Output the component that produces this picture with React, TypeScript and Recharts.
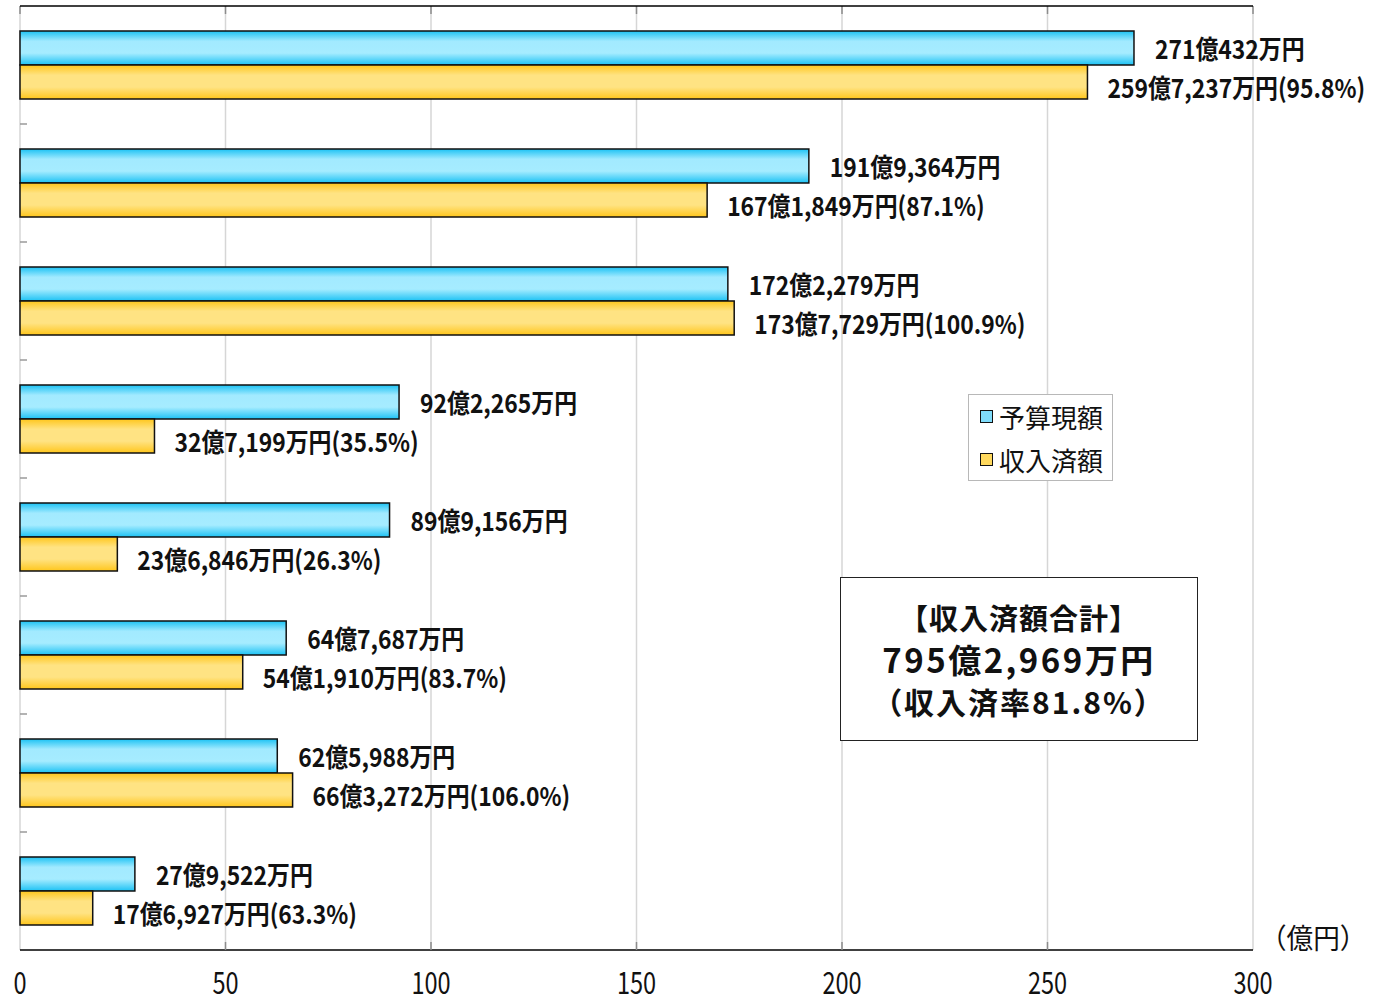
import React from "react";
import { Bar, BarChart, CartesianGrid, LabelList, Legend, XAxis, YAxis } from "recharts";

// 単位: 億円
const CATEGORIES = ["1", "2", "3", "4", "5", "6", "7", "8"];
const BUDGET = [271.0432, 191.9364, 172.2279, 92.2265, 89.9156, 64.7687, 62.5988, 27.9522];
const RECEIVED = [259.7237, 167.1849, 173.7729, 32.7199, 23.6846, 54.191, 66.3272, 17.6927];
const BUDGET_TEXT = [
  "271億432万円",
  "191億9,364万円",
  "172億2,279万円",
  "92億2,265万円",
  "89億9,156万円",
  "64億7,687万円",
  "62億5,988万円",
  "27億9,522万円",
];
const RECEIVED_TEXT = [
  "259億7,237万円(95.8%)",
  "167億1,849万円(87.1%)",
  "173億7,729万円(100.9%)",
  "32億7,199万円(35.5%)",
  "23億6,846万円(26.3%)",
  "54億1,910万円(83.7%)",
  "66億3,272万円(106.0%)",
  "17億6,927万円(63.3%)",
];
const X_TICKS = [0, 50, 100, 150, 200, 250, 300];

const SERIES_NAMES = ["予算現額", "収入済額"];
const TOTAL_LINES = ["【収入済額合計】", "795億2,969万円", "（収入済率81.8%）"];
const UNIT = "（億円）";

const JP_FONT = "'Noto Sans CJK JP', 'Noto Sans', sans-serif";

const rows = CATEGORIES.map((name, i) => ({
  name,
  budget: BUDGET[i],
  received: RECEIVED[i],
  budgetText: BUDGET_TEXT[i],
  receivedText: RECEIVED_TEXT[i],
}));

function makeBarLabel(dx: number, dy: number) {
  return function BarLabel(props: any) {
    const { x, y, width, height, value } = props;
    const tx = Number(x) + Number(width) + dx;
    const ty = Number(y) + Number(height) / 2 + dy;
    return (
      <g transform={`translate(${tx},${ty}) scale(0.88,1)`}>
        <text x={0} y={0} dominantBaseline="central" fontFamily={JP_FONT} fontWeight={700} fontSize={26} fill="#111">
          {value}
        </text>
      </g>
    );
  };
}

function XTick(props: any) {
  const { x, y, payload } = props;
  const ax = Number(x);
  const ay = Number(y);
  return (
    <g>
      {payload.value > 0 && payload.value < 300 && (
        <line x1={ax} x2={ax} y1={ay - 8} y2={ay} stroke="#8c8c8c" strokeWidth={1.5} />
      )}
      <g transform={`translate(${ax},${ay + 30}) scale(0.76,1)`}>
        <text x={0} y={0} textAnchor="middle" dominantBaseline="central" fontFamily={JP_FONT} fontSize={31} fill="#111">
          {payload.value}
        </text>
      </g>
    </g>
  );
}

// short marks between categories, along the inside of the left axis
const boundaryLines = ({ offset }: any) =>
  CATEGORIES.slice(1).map((_, i) => offset.top + (offset.height * (i + 1)) / CATEGORIES.length);

function LegendBox() {
  const swatches = ["#7fdcfb", "#ffd95e"];
  return (
    <div
      style={{
        width: 145,
        height: 87,
        boxSizing: "border-box",
        border: "1px solid #b8b8b8",
        background: "#fff",
        padding: "0 0 0 11px",
        fontFamily: JP_FONT,
        fontSize: 26,
        color: "#111",
      }}
    >
      {SERIES_NAMES.map((name, i) => (
        <div key={name} style={{ display: "flex", alignItems: "center", height: 43 }}>
          <span
            style={{
              display: "inline-block",
              width: 11,
              height: 11,
              border: "1.5px solid #111",
              background: swatches[i],
              marginRight: 6,
            }}
          />
          {name}
        </div>
      ))}
    </div>
  );
}

export default function App() {
  return (
    <div style={{ position: "absolute", left: 0, top: 0, width: 1380, height: 999, background: "#fff" }}>
      <BarChart
        width={1380}
        height={999}
        data={rows}
        layout="vertical"
        margin={{ top: 6, right: 127, bottom: 0, left: 20 }}
        barSize={34}
        barGap={0}
      >
        <defs>
          <linearGradient id="gradBlue" x1="0" y1="0" x2="0" y2="1">
            <stop offset="0%" stopColor="#1cc2f4" />
            <stop offset="30%" stopColor="#a2eaff" />
            <stop offset="65%" stopColor="#a6ecff" />
            <stop offset="100%" stopColor="#1cc2f4" />
          </linearGradient>
          <linearGradient id="gradGold" x1="0" y1="0" x2="0" y2="1">
            <stop offset="0%" stopColor="#ffc61c" />
            <stop offset="30%" stopColor="#ffe383" />
            <stop offset="65%" stopColor="#ffe383" />
            <stop offset="100%" stopColor="#ffc61c" />
          </linearGradient>
        </defs>
        <CartesianGrid horizontal={false} stroke="#d6d6d6" strokeWidth={1.5} />
        <CartesianGrid horizontal={false} stroke="#8c8c8c" strokeWidth={1.5} strokeDasharray="8 3000" />
        <CartesianGrid
          vertical={false}
          stroke="#9a9a9a"
          strokeWidth={1.5}
          strokeDasharray="7 3000"
          horizontalCoordinatesGenerator={boundaryLines}
        />
        <CartesianGrid
          vertical={false}
          stroke="#000"
          strokeWidth={1.5}
          horizontalCoordinatesGenerator={({ offset }: any) => [offset.top]}
        />
        <XAxis
          type="number"
          domain={[0, 300]}
          ticks={X_TICKS}
          interval={0}
          height={49}
          axisLine={{ stroke: "#000", strokeWidth: 1.5 }}
          tickLine={false}
          tickSize={0}
          tickMargin={0}
          tick={<XTick />}
        />
        <YAxis
          type="category"
          dataKey="name"
          width={0}
          tick={false}
          tickLine={false}
          axisLine={{ stroke: "#000", strokeWidth: 1.5 }}
        />
        <Legend
          layout="vertical"
          align="center"
          verticalAlign="middle"
          content={() => <LegendBox />}
          wrapperStyle={{ position: "absolute", left: 968, top: 394, width: 145, height: 87 }}
        />
        <Bar dataKey="budget" name={SERIES_NAMES[0]} fill="url(#gradBlue)" stroke="#111" strokeWidth={1.5} isAnimationActive={false}>
          <LabelList dataKey="budgetText" content={makeBarLabel(21, 0)} />
        </Bar>
        <Bar dataKey="received" name={SERIES_NAMES[1]} fill="url(#gradGold)" stroke="#111" strokeWidth={1.5} isAnimationActive={false}>
          <LabelList dataKey="receivedText" content={makeBarLabel(20, 5)} />
        </Bar>
      </BarChart>
      <div
        style={{
          position: "absolute",
          left: 840,
          top: 577,
          width: 358,
          height: 164,
          boxSizing: "border-box",
          border: "1.5px solid #222",
          background: "#fff",
          display: "flex",
          flexDirection: "column",
          alignItems: "center",
          justifyContent: "center",
          fontFamily: JP_FONT,
          fontWeight: 700,
          color: "#111",
          lineHeight: "42px",
        }}
      >
        <div style={{ fontSize: 29, letterSpacing: 1 }}>{TOTAL_LINES[0]}</div>
        <div style={{ fontSize: 33, letterSpacing: 2.5 }}>{TOTAL_LINES[1]}</div>
        <div style={{ fontSize: 30, letterSpacing: 2 }}>{TOTAL_LINES[2]}</div>
      </div>
      <div
        style={{
          position: "absolute",
          left: 1260,
          top: 917,
          fontFamily: JP_FONT,
          fontSize: 28,
          color: "#111",
          transform: "scale(0.95,1)",
          transformOrigin: "0 0",
          whiteSpace: "nowrap",
        }}
      >
        {UNIT}
      </div>
    </div>
  );
}
